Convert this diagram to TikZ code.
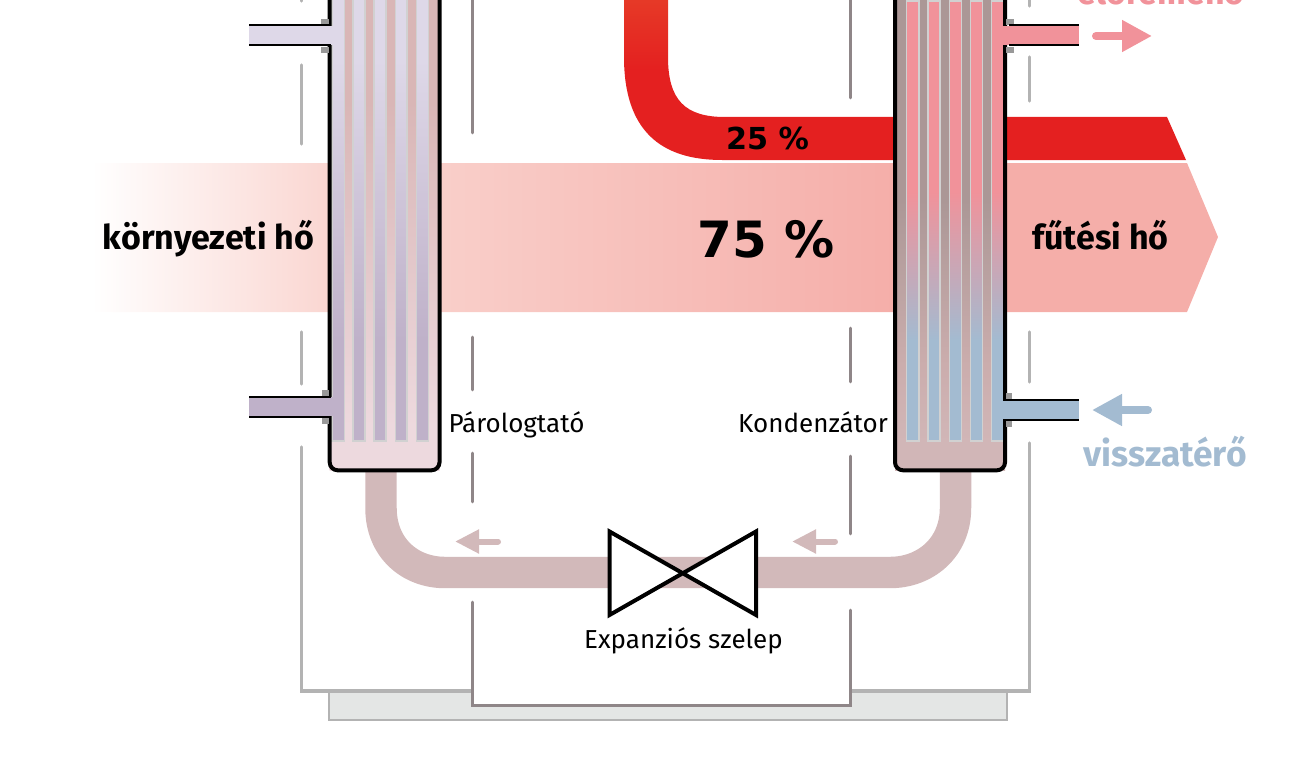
\documentclass[tikz,border=0pt]{standalone}
\usepackage{fontspec}
\setmainfont{Fira Sans}
\newfontfamily\heavyfont{DejaVu Sans}
\usepackage{tikz}
\usetikzlibrary{arrows.meta}

\definecolor{lavtop}{HTML}{DED8E8}
\definecolor{lavlow}{HTML}{BFB1C9}
\definecolor{rosetop}{HTML}{D9B6B6}
\definecolor{roselow}{HTML}{EDD9DE}
\definecolor{hotpink}{HTML}{F1929A}
\definecolor{coldblue}{HTML}{A3BBD1}
\definecolor{greytop}{HTML}{AB9796}
\definecolor{greylow}{HTML}{CBADAD}
\definecolor{condbase}{HTML}{D1B6B7}
\definecolor{pipecol}{HTML}{D2B9BA}
\definecolor{redtop}{HTML}{E63A27}
\definecolor{redlow}{HTML}{E42020}
\definecolor{bandmid}{HTML}{FAD6D1}
\definecolor{bandend}{HTML}{F5AEA9}
\definecolor{framelight}{HTML}{B3B3B3}
\definecolor{framedark}{HTML}{8F8688}
\definecolor{basecol}{HTML}{E4E6E5}

\pgfdeclarehorizontalshading{bandshade}{100bp}{color(0bp)=(white); color(25bp)=(white); color(35.6bp)=(bandmid); color(60.7bp)=(bandend); color(100bp)=(bandend)}
\pgfdeclareverticalshading{redshade}{100bp}{color(0bp)=(redlow); color(52.8bp)=(redlow); color(75bp)=(redtop); color(100bp)=(redtop)}
\pgfdeclareverticalshading{lavshade}{100bp}{color(0bp)=(lavlow); color(36.4bp)=(lavlow); color(68bp)=(lavtop); color(100bp)=(lavtop)}
\pgfdeclareverticalshading{roseshade}{100bp}{color(0bp)=(roselow); color(29.6bp)=(roselow); color(63.5bp)=(rosetop); color(100bp)=(rosetop)}
\pgfdeclareverticalshading{hotshade}{100bp}{color(0bp)=(coldblue); color(36.4bp)=(coldblue); color(53.3bp)=(hotpink); color(100bp)=(hotpink)}
\pgfdeclareverticalshading{greyshade}{100bp}{color(0bp)=(condbase); color(28bp)=(condbase); color(36bp)=(greylow); color(53.3bp)=(greytop); color(100bp)=(greytop)}

\begin{document}
\begin{tikzpicture}[x=0.75pt,y=-0.75pt]
	\tikzstyle{every node}=[inner sep=0pt, anchor=base]
	\tikzstyle{lightline}=[draw=framelight, line width=2.6pt, line cap=round]
	\tikzstyle{darkline}=[draw=framedark, line width=2.1pt, line cap=round]
	\tikzstyle{flange}=[fill=black!40]
	\tikzstyle{wall}=[draw=black, line width=3pt, rounded corners=6pt]
	\tikzstyle{nozzleline}=[draw=black, line width=1.5pt]
	\tikzstyle{strip}=[draw=black!18, line width=.8pt]
	\tikzstyle{flow}=[line width=6pt, line cap=round, -{Triangle[length=22.5pt,width=22.5pt]}]
	\tikzstyle{smallflow}=[draw=pipecol, line width=4.5pt, line cap=round, -{Triangle[length=18pt,width=17pt]}]
	\tikzstyle{caption}=[font=\fontsize{19.5}{22}\selectfont]
	\tikzstyle{heading}=[font=\fontsize{25.5}{28}\selectfont\bfseries]

	\clip (0,0) rectangle (1294,763);
	\useasboundingbox (0,0) rectangle (1294,763);

	\fill[basecol, draw=framelight, line width=2.2pt] (329,691) rectangle (1007,720);
	\draw[lightline] (301.5,447) -- (301.5,691) -- (1029.5,691) -- (1029.5,443);
	\draw[darkline, fill=white] (472.5,602) -- (472.5,705.5) -- (850.5,705.5) -- (850.5,610);

	\draw[lightline] (301.5,-2) -- (301.5,1);
	\draw[lightline] (301.5,65) -- (301.5,144);
	\draw[lightline] (301.5,332) -- (301.5,384);
	\draw[lightline] (1029.5,-2) -- (1029.5,6);
	\draw[lightline] (1029.5,57) -- (1029.5,101);
	\draw[lightline] (1029.5,332) -- (1029.5,382);
	\draw[darkline] (472.5,-2) -- (472.5,133);
	\draw[darkline] (472.5,337) -- (472.5,390);
	\draw[darkline] (472.5,453) -- (472.5,502);
	\draw[darkline] (850.5,-2) -- (850.5,98);
	\draw[darkline] (850.5,328) -- (850.5,382);
	\draw[darkline] (850.5,456) -- (850.5,534);

	\path[shading=bandshade] (92,163) -- (1187,163) -- (1218,237) -- (1187,312) -- (92,312) -- cycle;
	\path[shading=redshade] (624,-2) -- (624,57) .. controls (624,130) and (660,160) .. (722,160) -- (1186,160) -- (1167,117) -- (725,117) .. controls (685,117) and (668,100) .. (668,57) -- (668,-2) -- cycle;

	\draw[draw=pipecol, line width=23.6pt] (381,468) -- (381,508) .. controls (381,548) and (410,572.5) .. (445,572.5) -- (890,572.5) .. controls (925,572.5) and (955.5,548) .. (955.5,508) -- (955.5,468);

	\path[shading=roseshade] (329.7,-8) -- (329.7,470) -- (439.5,470) -- (439.5,-8) -- cycle;
	\draw[strip, shading=lavshade] (332,-2) rectangle (344.5,441) (353,-2) rectangle (365,441) (374,-2) rectangle (386,441) (395.5,-2) rectangle (407,441) (416.5,-2) rectangle (428.5,441);
	\draw[wall] (329.7,-8) -- (329.7,470.3) -- (439.5,470.3) -- (439.5,-8);

	\path[shading=greyshade] (895,-8) -- (895,470) -- (1005,470) -- (1005,-8) -- cycle;
	\draw[strip, shading=hotshade] (906.5,1) rectangle (919,441) (928,1) rectangle (940,441) (949.5,1) rectangle (961.5,441) (970.5,1) rectangle (982.5,441) (991.5,1) rectangle (1003.5,441);
	\draw[wall] (895,-8) -- (895,470.3) -- (1005,470.3) -- (1005,-8);

	\fill[flange] (321,19) rectangle (329,25);
	\fill[flange] (321,47) rectangle (329,53);
	\fill[flange] (322,390) rectangle (329,396);
	\fill[flange] (322,417) rectangle (329,424);
	\fill[flange] (1006,19) rectangle (1014,25);
	\fill[flange] (1006,47) rectangle (1014,53);
	\fill[flange] (1006,393) rectangle (1012,399);
	\fill[flange] (1006,420) rectangle (1012,427);

	\fill[lavtop] (249,26) rectangle (333,45.5);
	\draw[nozzleline] (249,25.5) -- (331,25.5);
	\draw[nozzleline] (249,45.5) -- (331,45.5);
	\fill[lavlow] (249,397) rectangle (333,416);
	\draw[nozzleline] (249,396.5) -- (331,396.5);
	\draw[nozzleline] (249,416.5) -- (331,416.5);
	\fill[hotpink] (1002,26) rectangle (1079,45.5);
	\draw[nozzleline] (1009,25.5) -- (1079,25.5);
	\draw[nozzleline] (1009,45.5) -- (1079,45.5);
	\fill[coldblue] (1002,400) rectangle (1079,419);
	\draw[nozzleline] (1003,399.5) -- (1079,399.5);
	\draw[nozzleline] (1003,419.5) -- (1079,419.5);

	\draw[flow, draw=hotpink] (1096,36) -- (1152,36);
	\draw[flow, draw=coldblue] (1148,410) -- (1092,410);
	\draw[smallflow] (498,541.5) -- (455,541.5);
	\draw[smallflow] (835,541.5) -- (792,541.5);

	\draw[fill=white, draw=black, line width=3pt, line join=miter] (609.5,531.5) -- (756,615) -- (756,531.5) -- (609.5,615) -- cycle;

	\node[heading] (ambient) at (208.5,249) {környezeti hő};
	\node[heading] (heating) at (1100.5,249) {fűtési hő};
	\node[font=\heavyfont\fontsize{37.5}{40}\selectfont\bfseries] (large) at (766.5,257) {75 \%};
	\node[font=\heavyfont\fontsize{22.7}{25}\selectfont\bfseries] (small) at (767.5,150) {25 \%};
	\node[heading, font=\fontsize{26.5}{28}\selectfont\bfseries, text=coldblue] (return) at (1165,466.5) {visszatérő};
	\node[heading, text=hotpink] (supply) at (1161,5) {előremenő};
	\node[caption] (evaporator) at (516.5,432) {Párologtató};
	\node[caption] (condenser) at (813,432) {Kondenzátor};
	\node[caption] (valve) at (683.5,648) {Expanziós szelep};
\end{tikzpicture}
\end{document}
